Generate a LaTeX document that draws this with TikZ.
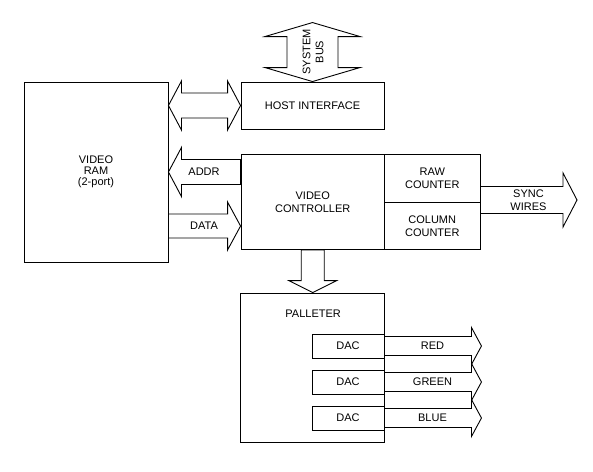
\documentclass[tikz,border=0pt]{standalone}
\usepackage{fontspec}
\setmainfont{Liberation Sans}
\usetikzlibrary{calc}

\begin{document}
\begin{tikzpicture}[x=1pt, y=-1pt, line width=0.9pt, line join=miter,
    every node/.style={font=\fontsize{11}{13}\selectfont, align=center, inner sep=0pt},
    block/.style={draw, minimum width=#1},
    fat arrow/.style n args={3}{draw, to path={
        ($(\tikztostart)!#1!90:(\tikztotarget)$)
        -- ($(\tikztotarget)!#3!(\tikztostart)!#1!90:(\tikztotarget)$)
        -- ($(\tikztotarget)!#3!(\tikztostart)!#2!90:(\tikztotarget)$)
        -- (\tikztotarget)
        -- ($(\tikztotarget)!#3!(\tikztostart)!#2!-90:(\tikztotarget)$)
        -- ($(\tikztotarget)!#3!(\tikztostart)!#1!-90:(\tikztotarget)$)
        -- ($(\tikztostart)!#1!-90:(\tikztotarget)$) -- cycle}},
    twin arrow/.style n args={3}{draw, to path={
        -- ($(\tikztostart)!#3!(\tikztotarget)!#2!90:(\tikztotarget)$)
        -- ($(\tikztostart)!#3!(\tikztotarget)!#1!90:(\tikztotarget)$)
        -- ($(\tikztotarget)!#3!(\tikztostart)!#1!90:(\tikztotarget)$)
        -- ($(\tikztotarget)!#3!(\tikztostart)!#2!90:(\tikztotarget)$)
        -- (\tikztotarget)
        -- ($(\tikztotarget)!#3!(\tikztostart)!#2!-90:(\tikztotarget)$)
        -- ($(\tikztotarget)!#3!(\tikztostart)!#1!-90:(\tikztotarget)$)
        -- ($(\tikztostart)!#3!(\tikztotarget)!#1!-90:(\tikztotarget)$)
        -- ($(\tikztostart)!#3!(\tikztotarget)!#2!-90:(\tikztotarget)$) -- cycle}}]
    \useasboundingbox (0,0) rectangle (593,471);

    % Video RAM and host side
    \node[block=144pt, minimum height=180pt, font=\fontsize{11}{11}\selectfont] (ram) at (96,172) {VIDEO\\RAM\\(2-port)};
    \node[block=143pt, minimum height=47pt] (host) at (312.5,105.5) {HOST INTERFACE};
    \node[rotate=90] (bus) at (313,52) {SYSTEM\\BUS};

    % Controller and counters
    \node[block=143.5pt, minimum height=95pt] (vc) at (312.75,202) {VIDEO\\CONTROLLER};
    \node[block=95.5pt, minimum height=47.5pt] (raw) at (432.25,178.25) {RAW\\COUNTER};
    \node[block=95.5pt, minimum height=47.5pt] (col) at (432.25,225.75) {COLUMN\\COUNTER};

    % Palleter with its DACs
    \node[block=144pt, minimum height=149pt] (pal) at (312,367.5) {};
    \node[anchor=west] (paltext) at (285,314) {PALLETER};
    \node[block=72pt, minimum height=24pt] (dac1) at (348,346) {DAC};
    \node[block=72pt, minimum height=24pt] (dac2) at (348,382) {DAC};
    \node[block=72pt, minimum height=24pt] (dac3) at (348,418) {DAC};

    % Labels on the wide arrows
    \node (addr) at (204,172) {ADDR};
    \node (data) at (204,226) {DATA};
    \node (sync) at (528.5,200) {SYNC\\WIRES};
    \node (red) at (432.5,346) {RED};
    \node (green) at (432.5,382) {GREEN};
    \node (blue) at (432.5,418) {BLUE};
    \coordinate (synctip) at (577,200);

    % Wide arrows
    \draw[twin arrow={12.5pt}{24.5pt}{13pt}] (ram.east |- host.west) to (host.west);
    \draw[twin arrow={25.5pt}{47.5pt}{14pt}] (host.north) to ([yshift=59pt]host.north);
    \draw[fat arrow={12.5pt}{24.5pt}{13pt}] (vc.west |- addr) to (ram.east |- addr);
    \draw[fat arrow={12pt}{24pt}{13pt}] (ram.east |- data) to (vc.west |- data);
    \draw[fat arrow={13.5pt}{27pt}{14pt}] (raw.east |- synctip) to (synctip);
    \draw[fat arrow={11.5pt}{24pt}{12pt}] (vc.south) to (vc.south |- pal.north);
    \draw[fat arrow={9.5pt}{18.5pt}{10pt}] (dac1.east) to ([xshift=97pt]dac1.east);
    \draw[fat arrow={9.5pt}{18.5pt}{10pt}] (dac2.east) to ([xshift=97pt]dac2.east);
    \draw[fat arrow={9.5pt}{18.5pt}{10pt}] (dac3.east) to ([xshift=97pt]dac3.east);
\end{tikzpicture}
\end{document}
